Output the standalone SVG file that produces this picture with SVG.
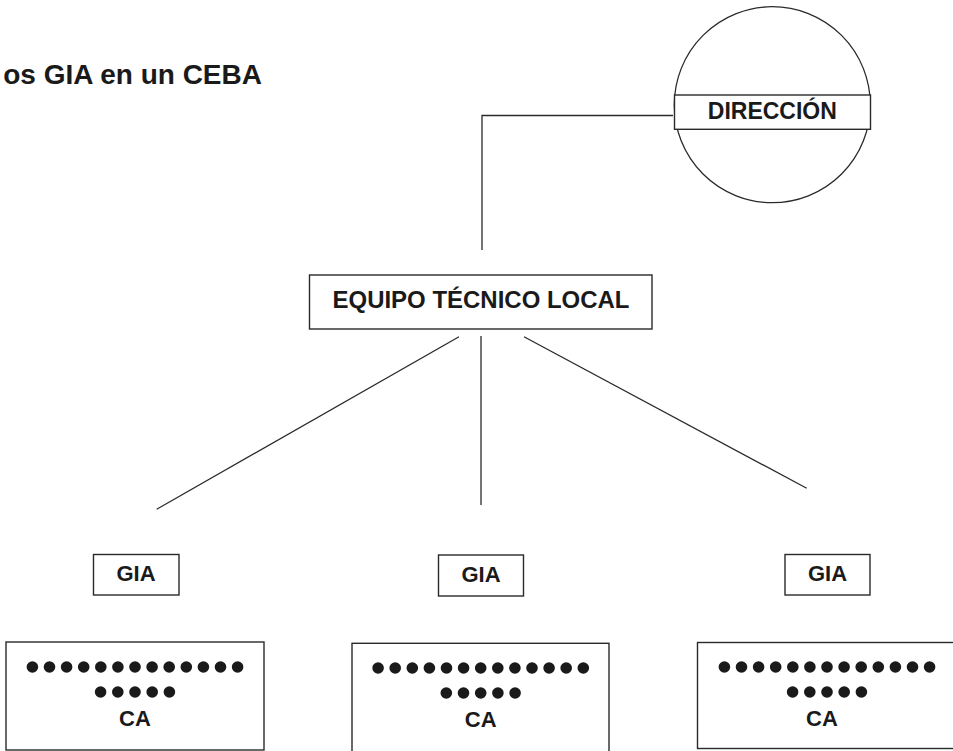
<svg xmlns="http://www.w3.org/2000/svg" width="953" height="751" viewBox="0 0 953 751">
<style>
  .box { fill: #fff; stroke: #2a2a2a; stroke-width: 1.4; }
  .ln { fill: none; stroke: #2a2a2a; stroke-width: 1.3; }
  .t { font-family: "Liberation Sans", Arial, sans-serif; font-weight: bold; fill: #1a1a1a; text-anchor: middle; }
  .dot { fill: #1a1a1a; }
</style>
<defs>
  <g id="dots">
    <circle class="dot" cx="-102.6" cy="0" r="5.8"/>
    <circle class="dot" cx="-85.5" cy="0" r="5.8"/>
    <circle class="dot" cx="-68.4" cy="0" r="5.8"/>
    <circle class="dot" cx="-51.3" cy="0" r="5.8"/>
    <circle class="dot" cx="-34.2" cy="0" r="5.8"/>
    <circle class="dot" cx="-17.1" cy="0" r="5.8"/>
    <circle class="dot" cx="0" cy="0" r="5.8"/>
    <circle class="dot" cx="17.1" cy="0" r="5.8"/>
    <circle class="dot" cx="34.2" cy="0" r="5.8"/>
    <circle class="dot" cx="51.3" cy="0" r="5.8"/>
    <circle class="dot" cx="68.4" cy="0" r="5.8"/>
    <circle class="dot" cx="85.5" cy="0" r="5.8"/>
    <circle class="dot" cx="102.6" cy="0" r="5.8"/>
    <circle class="dot" cx="-34.4" cy="25" r="5.8"/>
    <circle class="dot" cx="-17.2" cy="25" r="5.8"/>
    <circle class="dot" cx="0" cy="25" r="5.8"/>
    <circle class="dot" cx="17.2" cy="25" r="5.8"/>
    <circle class="dot" cx="34.4" cy="25" r="5.8"/>
  </g>
</defs>
<rect width="953" height="751" fill="#fff"/>

<g id="title">
  <text class="t" x="262" y="84" font-size="28" style="text-anchor:end">os GIA en un CEBA</text>
</g>

<g id="connectors">
  <polyline class="ln" points="482,250 482,115.5 673,115.5"/>
  <line class="ln" x1="459" y1="336.7" x2="156.7" y2="509.3"/>
  <line class="ln" x1="481" y1="336" x2="481" y2="505"/>
  <line class="ln" x1="524" y1="336.7" x2="806.7" y2="488.3"/>
</g>

<g id="direccion">
  <circle cx="772.3" cy="104.7" r="98" fill="#fff" stroke="#2a2a2a" stroke-width="1.3"/>
  <rect class="box" x="674.5" y="95" width="196" height="34.3"/>
  <text class="t" x="772.3" y="119" font-size="23">DIRECCIÓN</text>
</g>

<g id="etl">
  <rect class="box" x="309.5" y="275" width="342.5" height="54"/>
  <text class="t" x="481" y="307.5" font-size="23" textLength="297" lengthAdjust="spacingAndGlyphs">EQUIPO TÉCNICO LOCAL</text>
</g>

<g id="gia1">
  <rect class="box" x="93.5" y="554.5" width="85.5" height="40.5"/>
  <text class="t" x="136" y="581" font-size="22">GIA</text>
</g>
<g id="gia2">
  <rect class="box" x="438.5" y="555" width="85" height="41"/>
  <text class="t" x="481" y="582" font-size="22">GIA</text>
</g>
<g id="gia3">
  <rect class="box" x="785" y="554.5" width="85" height="40.5"/>
  <text class="t" x="827.5" y="581" font-size="22">GIA</text>
</g>

<g id="ca1">
  <rect class="box" x="6" y="642" width="258" height="108"/>
  <use href="#dots" x="135" y="667"/>
  <text class="t" x="135" y="726" font-size="22">CA</text>
</g>
<g id="ca2">
  <rect class="box" x="352" y="643.3" width="257" height="110"/>
  <use href="#dots" x="480.7" y="668"/>
  <text class="t" x="480.7" y="727" font-size="22">CA</text>
</g>
<g id="ca3">
  <rect class="box" x="697.5" y="642.5" width="262" height="106"/>
  <use href="#dots" x="827" y="667"/>
  <text class="t" x="822" y="726" font-size="22">CA</text>
</g>
</svg>
